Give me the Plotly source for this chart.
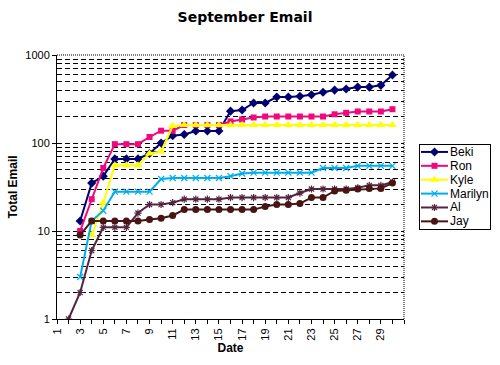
import plotly.graph_objects as go

# ---- data ----
days = list(range(1, 31))
names = ["Beki", "Ron", "Kyle", "Marilyn", "Al", "Jay"]
beki = [None, None, 13, 35, 42, 66, 66, 66, 76, 100, 121, 125, 137, 137, 137,
        230, 237, 285, 285, 333, 333, 340, 353, 377, 399, 411, 432, 432, 452, 593]
ron = [None, None, 10, 23, 52, 97, 97, 97, 117, 138, 138, 160, 160, 160, 160,
       176, 185, 195, 200, 200, 200, 200, 200, 200, 212, 220, 228, 228, 228, 242]
kyle = [None, None, None, 9, 21, 56, 56, 56, 76, 80, 156, 160, 160, 160, 160,
        160, 160, 160, 160, 160, 160, 160, 160, 160, 160, 160, 160, 160, 160, 160]
marilyn = [None, None, 3, 13, 17, 28, 28, 28, 28, 39, 40, 40, 40, 40, 40,
           42, 45, 46, 46, 46, 46, 46, 46, 52, 52, 52, 55, 55, 55, 55]
al = [None, 1, 2, 6, 11, 11, 11, 16, 20, 20, 21, 23, 23, 23, 23,
      24, 24, 24, 24, 24, 24, 27, 30, 30, 30, 30, 31, 33, 33, 36]
jay = [None, None, 9, 13, 13, 13, 13, 13, 13.5, 14, 15, 17.5, 17.5, 17.5, 17.5,
       17.5, 17.5, 17.5, 19, 20, 20, 20.5, 24, 24, 28.5, 29, 30, 30.5, 30.5, 35]
x_tick_days = list(range(1, 32))
x_tick_labels = [str(d) if (d % 2 == 1 and d < 31) else "" for d in x_tick_days]
y_major = [1, 10, 100, 1000]
y_minor = [m * 10 ** k for k in range(3) for m in range(2, 11)]

series = [beki, ron, kyle, marilyn, al, jay]

# ---- styles ----
colors = ["#000070", "#F0087F", "#FFFF00", "#00AEEF", "#52243F", "#481414"]
symbols = ["diamond", "square", "triangle-up", "x-thin-open", "asterisk-open", "circle"]
msizes = [7, 6, 8, 6, 6, 7]

W, H = 500, 365
ml, mr, mt, mb = 57, 5, 55, 46
pw = W - ml - mr
ph = H - mt - mb
plot_right = 404

fig = go.Figure()
for name, vals, c, s, ms in zip(names, series, colors, symbols, msizes):
    mk = dict(symbol=s, size=ms, color=c)
    if s.endswith("open"):
        mk["line"] = dict(color=c, width=1.2)
    fig.add_trace(go.Scatter(x=days, y=vals, name=name, mode="lines+markers",
                             line=dict(color=c, width=2), marker=mk,
                             connectgaps=False, showlegend=False,
                             xaxis="x", yaxis="y"))

# custom legend drawn in a small secondary axis
for i, (name, c, s, ms) in enumerate(zip(names, colors, symbols, msizes)):
    row = i + 0.5
    fig.add_trace(go.Scatter(x=[1, 28], y=[row, row], mode="lines",
                             line=dict(color=c, width=2), showlegend=False,
                             xaxis="x2", yaxis="y2", hoverinfo="skip"))
    mk = dict(symbol=s, size=ms, color=c)
    if s.endswith("open"):
        mk["line"] = dict(color=c, width=1.2)
    fig.add_trace(go.Scatter(x=[14.5], y=[row], mode="markers", marker=mk,
                             showlegend=False, xaxis="x2", yaxis="y2",
                             hoverinfo="skip"))
    fig.add_annotation(x=28, y=row, xref="x2", yref="y2", text=name,
                       showarrow=False, xanchor="left", yanchor="middle",
                       font=dict(family="Liberation Sans", size=12, color="black"))

font_tick = dict(family="Liberation Sans", size=11, color="black")
font_title = dict(family="Liberation Sans", size=12, color="black", weight="bold")

fig.update_layout(
    width=W, height=H,
    margin=dict(l=ml, r=mr, t=mt, b=mb, pad=0, autoexpand=False),
    paper_bgcolor="white", plot_bgcolor="white",
    title=dict(text="September Email", x=245 / W, xref="container", xanchor="center",
               y=1 - 17 / H, yref="container", yanchor="middle",
               font=dict(family="DejaVu Sans", size=14, color="black", weight="bold")),
    xaxis=dict(domain=[0, (plot_right - ml) / pw], range=[1, 31], automargin=False,
               tickmode="array", tickvals=x_tick_days, ticktext=x_tick_labels,
               tickangle=-90, ticks="outside", ticklen=4, tickcolor="black",
               showline=True, linecolor="black", linewidth=1,
               showgrid=False, zeroline=False, tickfont=font_tick,
               title=dict(text="Date", font=font_title, standoff=2)),
    yaxis=dict(type="log", range=[0, 3], domain=[0, 1], automargin=False,
               tickmode="array", tickvals=y_major, ticktext=[str(v) for v in y_major],
               ticks="outside", ticklen=4, tickcolor="black",
               showline=True, linecolor="black", linewidth=1,
               showgrid=False, zeroline=False, tickfont=font_tick,
               minor=dict(tickmode="array", tickvals=y_minor, ticks="",
                          showgrid=True, gridcolor="black", gridwidth=1,
                          griddash="5px,3px"),
               title=dict(text="Total Email", font=font_title, standoff=5)),
    xaxis2=dict(domain=[(420 - ml) / pw, (490 - ml) / pw], range=[0, 70],
                anchor="y2", showline=True, mirror=True, linecolor="black",
                linewidth=1, showticklabels=False, ticks="", showgrid=False,
                zeroline=False, fixedrange=True, automargin=False),
    yaxis2=dict(domain=[(H - mb - 229) / ph, (H - mb - 145) / ph], range=[6.05, 0],
                anchor="x2", showline=True, mirror=True, linecolor="black",
                linewidth=1, showticklabels=False, ticks="", showgrid=False,
                zeroline=False, fixedrange=True, automargin=False),
    shapes=[
        dict(type="line", xref="x domain", yref="y domain", x0=0, x1=1, y0=1, y1=1,
             line=dict(color="black", width=1, dash="1px,1px")),
        dict(type="line", xref="x domain", yref="y domain", x0=1, x1=1, y0=0, y1=1,
             line=dict(color="black", width=1, dash="1px,1px")),
    ],
)

fig.write_html("out.html", config={"displayModeBar": False},
               post_script="document.body.style.margin='0';")
